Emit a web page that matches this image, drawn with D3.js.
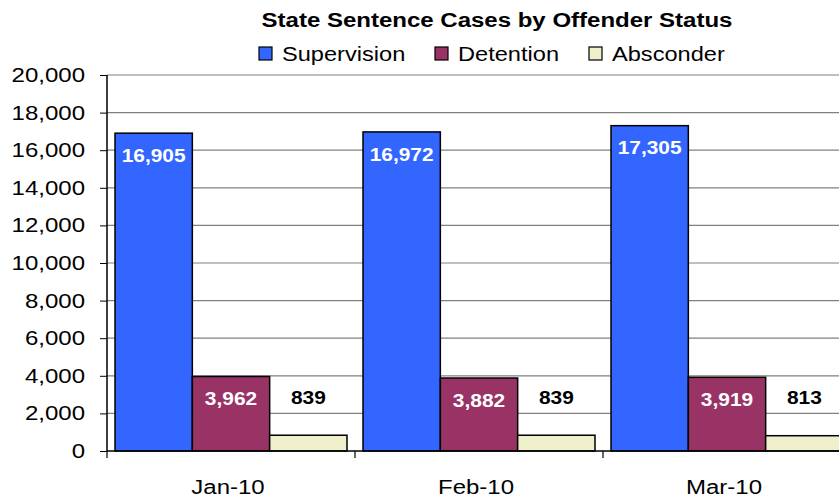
<!DOCTYPE html>
<html>
<head>
<meta charset="utf-8">
<script src="https://cdn.jsdelivr.net/npm/d3@7"></script>
<style>
  body { margin: 0; background: #fff; }
  svg { display: block; font-family: "Liberation Sans", Arial, sans-serif; }
  .grid line { stroke: #808080; stroke-width: 1.2; }
  .axis text { font-size: 20px; fill: #000; }
</style>
</head>
<body>
<div id="chart"></div>
<script>
/* global d3 */

// data //
let months = ["Jan-10", "Feb-10", "Mar-10"];
let seriesNames = ["Supervision", "Detention", "Absconder"];
let supervision = [16905, 16972, 17305];
let detention = [3962, 3882, 3919];
let absconder = [839, 839, 813];
let yTicks = [0, 2000, 4000, 6000, 8000, 10000, 12000, 14000, 16000, 18000, 20000];

let colors = {Supervision: "#3366FF", Detention: "#993366", Absconder: "#EFEFCC"};
let labelColors = {Supervision: "#fff", Detention: "#fff", Absconder: "#000"};

let SVGwidth = 839,
    SVGheight = 497;

let plotLeft = 107,
    plotTop = 75,
    plotBottom = 451,
    bandW = 248;

let svg = d3.select("#chart").append("svg")
    .attr("width", SVGwidth)
    .attr("height", SVGheight);

// the original text is rendered a bit wider than the fonts we have
function stretch(sel, k) {
    sel.each(function() {
        let w = this.getComputedTextLength();
        d3.select(this)
            .attr("textLength", w * k)
            .attr("lengthAdjust", "spacingAndGlyphs");
    });
}

let xScale = d3.scaleBand()
    .domain(months)
    .range([plotLeft, plotLeft + bandW * months.length])
    .padding(0);

let xInner = d3.scaleBand()
    .domain(seriesNames)
    .range([8, bandW - 8])
    .padding(0);

let yScale = d3.scaleLinear()
    .domain([0, 20000])
    .range([plotBottom, plotTop]);

// gridlines //
svg.append("g")
    .attr("class", "grid")
    .selectAll("line")
    .data(yTicks.slice(1))
    .enter().append("line")
    .attr("x1", plotLeft)
    .attr("x2", SVGwidth)
    .attr("y1", function(d) { return yScale(d); })
    .attr("y2", function(d) { return yScale(d); });

// bars //
let rows = months.map(function(m, i) {
    return {month: m, values: [
        {key: "Supervision", value: supervision[i]},
        {key: "Detention", value: detention[i]},
        {key: "Absconder", value: absconder[i]}
    ]};
});

let groups = svg.selectAll(".group")
    .data(rows)
    .enter().append("g")
    .attr("class", "group")
    .attr("transform", function(d) { return "translate(" + xScale(d.month) + ",0)"; });

groups.selectAll("rect")
    .data(function(d) { return d.values; })
    .enter().append("rect")
    .attr("x", function(d) { return xInner(d.key); })
    .attr("width", xInner.bandwidth())
    .attr("y", function(d) { return yScale(d.value); })
    .attr("height", function(d) { return yScale(0) - yScale(d.value); })
    .style("fill", function(d) { return colors[d.key]; })
    .style("stroke", "#000")
    .style("stroke-width", 1.5);

let valLabels = groups.selectAll(".valLabel")
    .data(function(d) { return d.values; })
    .enter().append("text")
    .attr("class", "valLabel")
    .attr("x", function(d) { return xInner(d.key) + xInner.bandwidth() / 2; })
    .attr("y", function(d) {
        if (d.key == "Absconder") { return yScale(d.value) - 38; }
        return yScale(d.value) + 22;
    })
    .attr("dy", "0.35em")
    .style("text-anchor", "middle")
    .style("font-size", "19px")
    .style("font-weight", "bold")
    .style("fill", function(d) { return labelColors[d.key]; })
    .text(function(d) { return d3.format(",")(d.value); });
stretch(valLabels, 1.1);

// axes //
let yAxis = d3.axisLeft(yScale)
    .tickValues(yTicks)
    .tickSize(7)
    .tickPadding(15)
    .tickFormat(d3.format(","));

let yG = svg.append("g")
    .attr("class", "axis")
    .attr("transform", "translate(" + plotLeft + ",0)")
    .call(yAxis);
yG.select(".domain").attr("stroke", "#000").attr("stroke-width", 1.5)
    .attr("d", "M0," + plotTop + "V" + plotBottom);
stretch(yG.selectAll(".tick text"), 1.2);

let xG = svg.append("g")
    .attr("class", "axis")
    .attr("transform", "translate(0," + plotBottom + ")");

xG.append("line")
    .attr("x1", plotLeft)
    .attr("x2", SVGwidth)
    .attr("stroke", "#000")
    .attr("stroke-width", 1.5);

xG.selectAll(".xtick")
    .data(months)
    .enter().append("line")
    .attr("class", "xtick")
    .attr("x1", function(d) { return xScale(d); })
    .attr("x2", function(d) { return xScale(d); })
    .attr("y1", 0)
    .attr("y2", 7)
    .attr("stroke", "#000")
    .attr("stroke-width", 1.2);

let xLabels = xG.selectAll(".xlabel")
    .data(months)
    .enter().append("text")
    .attr("class", "xlabel")
    .attr("x", function(d) { return xScale(d) + xScale.bandwidth() / 2 - 3; })
    .attr("y", 43)
    .style("text-anchor", "middle")
    .text(function(d) { return d; });
stretch(xLabels, 1.2);

// title //
let title = svg.append("text")
    .attr("x", 497)
    .attr("y", 27)
    .style("text-anchor", "middle")
    .style("font-size", "20px")
    .style("font-weight", "bold")
    .text("State Sentence Cases by Offender Status");
stretch(title, 1.2);

// legend //
let legendX = [259, 435, 589];
let legend = svg.selectAll(".legend")
    .data(seriesNames)
    .enter().append("g")
    .attr("class", "legend")
    .attr("transform", function(d, i) { return "translate(" + legendX[i] + ",47)"; });

legend.append("rect")
    .attr("width", 13)
    .attr("height", 13)
    .style("fill", function(d) { return colors[d]; })
    .style("stroke", "#000")
    .style("stroke-width", 1.2);

let legendText = legend.append("text")
    .attr("x", 23)
    .attr("y", 7)
    .attr("dy", "0.35em")
    .style("font-size", "20px")
    .text(function(d) { return d; });
stretch(legendText, 1.18);
</script>
</body>
</html>
